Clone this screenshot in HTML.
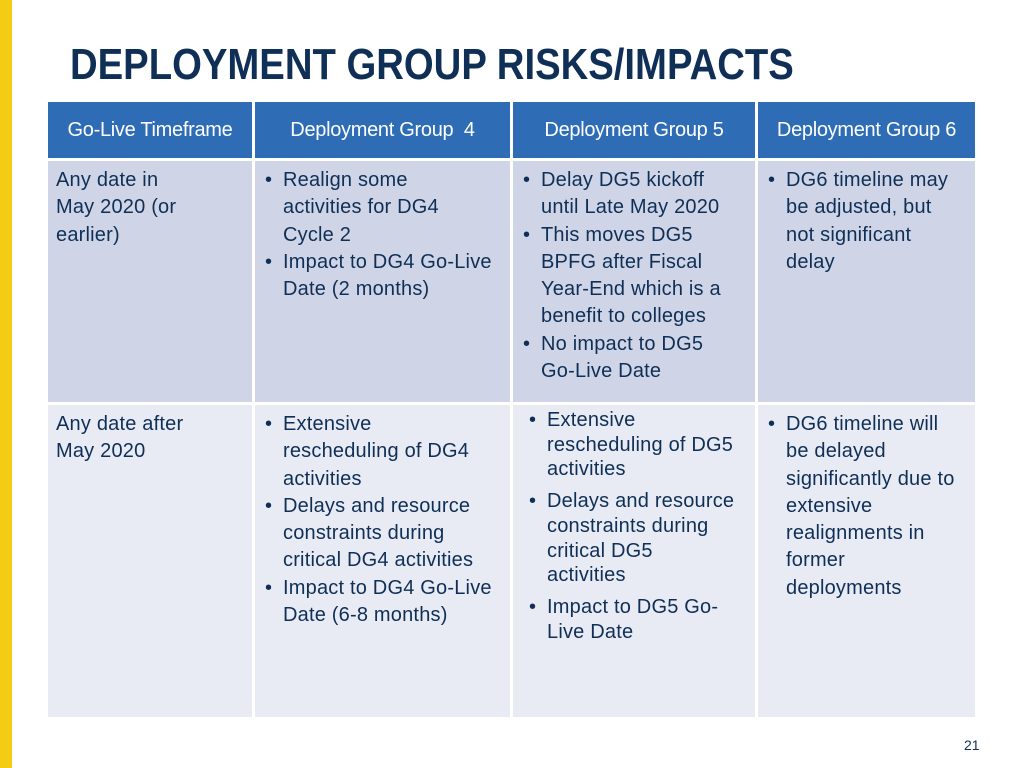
<!DOCTYPE html>
<html><head><meta charset="utf-8"><style>
body{margin:0;width:1024px;height:768px;background:#fff;position:relative;overflow:hidden;font-family:"Liberation Sans",Arial,sans-serif}
.abs{position:absolute}
.h{background:#2e6db5;color:#fff;font-size:20px;line-height:56px;text-align:center;letter-spacing:-0.3px}
.c{color:#0f2f57;font-size:20px;line-height:27.3px;box-sizing:border-box;padding:6px 8px;white-space:nowrap;letter-spacing:0.2px}
.r1{background:#cfd5e6}.r2{background:#e8ebf3}
ul{margin:0;padding:0 0 0 20px;list-style:none}
li{position:relative}
li:before{content:"•";position:absolute;left:-18px}
.t2 li{line-height:24.7px}
</style></head><body>
<div class="abs" style="left:0;top:0;width:12px;height:768px;background:#f5cc14"></div>
<div class="abs" style="left:70px;top:40px;font-size:44px;font-weight:bold;color:#0f2f57;white-space:nowrap;transform:scaleX(0.87);transform-origin:left">DEPLOYMENT GROUP RISKS/IMPACTS</div>

<div class="abs h" style="left:48px;top:102px;width:204px;height:56px">Go-Live Timeframe</div>
<div class="abs h" style="left:255px;top:102px;width:255px;height:56px">Deployment Group &nbsp;4</div>
<div class="abs h" style="left:513px;top:102px;width:242px;height:56px">Deployment Group 5</div>
<div class="abs h" style="left:758px;top:102px;width:217px;height:56px">Deployment Group 6</div>

<div class="abs c r1" style="left:48px;top:161px;width:204px;height:241px">Any date in<br>May 2020 (or<br>earlier)</div>
<div class="abs c r1" style="left:255px;top:161px;width:255px;height:241px"><ul><li>Realign some<br>activities for DG4<br>Cycle 2</li><li>Impact to DG4 Go-Live<br>Date (2 months)</li></ul></div>
<div class="abs c r1" style="left:513px;top:161px;width:242px;height:241px"><ul><li>Delay DG5 kickoff<br>until Late May 2020</li><li>This moves DG5<br>BPFG after Fiscal<br>Year-End which is a<br>benefit to colleges</li><li>No impact to DG5<br>Go-Live Date</li></ul></div>
<div class="abs c r1" style="left:758px;top:161px;width:217px;height:241px"><ul><li>DG6 timeline may<br>be adjusted, but<br>not significant<br>delay</li></ul></div>

<div class="abs c r2" style="left:48px;top:405px;width:204px;height:312px">Any date after<br>May 2020</div>
<div class="abs c r2" style="left:255px;top:405px;width:255px;height:312px"><ul><li>Extensive<br>rescheduling of DG4<br>activities</li><li>Delays and resource<br>constraints during<br>critical DG4 activities</li><li>Impact to DG4 Go-Live<br>Date (6-8 months)</li></ul></div>
<div class="abs c r2 t2" style="left:513px;top:405px;width:242px;height:312px;padding-top:3px;padding-left:14px"><ul><li style="margin-bottom:7px">Extensive<br>rescheduling of DG5<br>activities</li><li style="margin-bottom:7px">Delays and resource<br>constraints during<br>critical DG5<br>activities</li><li>Impact to DG5 Go-<br>Live Date</li></ul></div>
<div class="abs c r2" style="left:758px;top:405px;width:217px;height:312px"><ul><li>DG6 timeline will<br>be delayed<br>significantly due to<br>extensive<br>realignments in<br>former<br>deployments</li></ul></div>

<div class="abs" style="left:964px;top:737px;font-size:14px;color:#0f2f57">21</div>
</body></html>
